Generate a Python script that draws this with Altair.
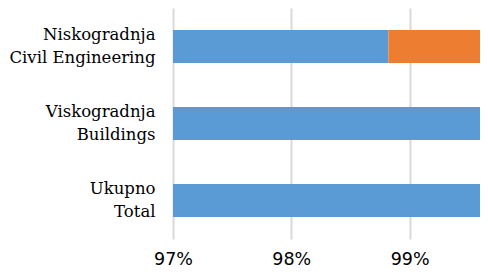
import altair as alt
import pandas as pd

categories = ["Niskogradnja|Civil Engineering", "Viskogradnja|Buildings", "Ukupno|Total"]
series_names = ["Series 1", "Series 2"]
blue_values = [0.9882, 1.0, 1.0]
orange_values = [0.0118, 0.0, 0.0]
tick_values = [0.97, 0.98, 0.99]

rows = []
for c, b, o in zip(categories, blue_values, orange_values):
    rows.append({"cat": c, "series": series_names[0], "val": b, "ord": 0})
    rows.append({"cat": c, "series": series_names[1], "val": o, "ord": 1})
df = pd.DataFrame(rows)

chart = alt.Chart(df).mark_bar(clip=True).encode(
    y=alt.Y("cat:N", sort=categories, title=None,
            scale=alt.Scale(paddingInner=0.57, paddingOuter=0.285),
            axis=alt.Axis(labelExpr="split(datum.label, '|')", labelFont="DejaVu Serif",
                          labelFontSize=16.5, labelColor="#000000", labelPadding=18,
                          labelLineHeight=23, labelAlign="right", labelOffset=-11.5,
                          ticks=False, domain=False, labelLimit=300)),
    x=alt.X("val:Q", stack="zero", title=None,
            scale=alt.Scale(domain=[0.97, 0.99595], nice=False, zero=False),
            axis=alt.Axis(values=tick_values, format=".0%", labelFont="DejaVu Sans",
                          labelFontSize=17.5, labelColor="#000000", labelPadding=11,
                          ticks=False, domain=False, grid=True, gridColor="#d9d9d9",
                          gridWidth=2, labelFlush=False)),
    color=alt.Color("series:N", scale=alt.Scale(domain=series_names, range=["#5B9BD5", "#ED7D31"]),
                    legend=None),
    order=alt.Order("ord:Q"),
).properties(
    width=307, height=231,
    autosize=alt.AutoSizeParams(type="none"),
    padding={"left": 165, "top": 0, "right": 0, "bottom": 29},
).configure_view(stroke=None)

chart.save("out.html", embed_options={"renderer": "svg", "actions": False})
